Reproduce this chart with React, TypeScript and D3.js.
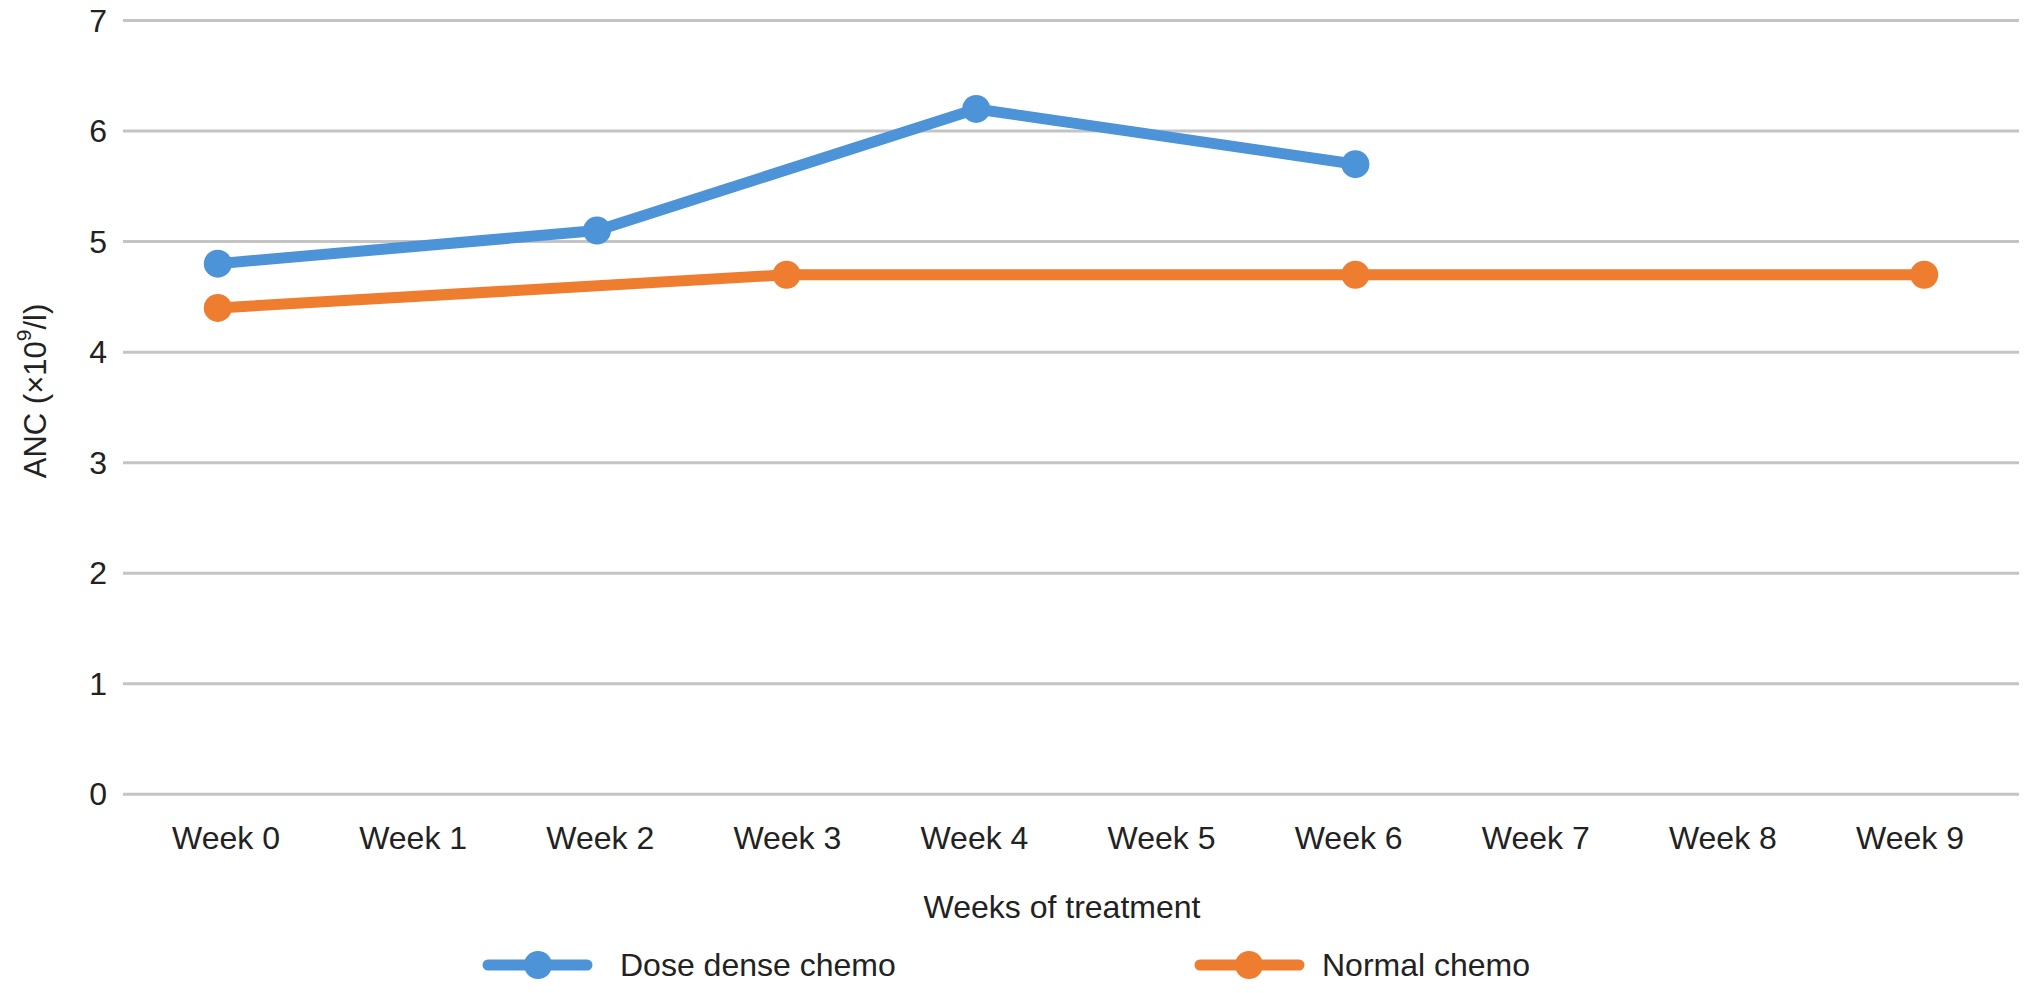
import React from "react";
import * as d3 from "d3";

const weeks = ["Week 0", "Week 1", "Week 2", "Week 3", "Week 4", "Week 5", "Week 6", "Week 7", "Week 8", "Week 9"];
const doseDense: (number | null)[] = [4.8, null, 5.1, null, 6.2, null, 5.7, null, null, null];
const normalChemo: (number | null)[] = [4.4, null, null, 4.7, null, null, 4.7, null, null, 4.7];
const yTicks = [0, 1, 2, 3, 4, 5, 6, 7];
const seriesNames = ["Dose dense chemo", "Normal chemo"];

const W = 2032;
const H = 993;
const FONT = "'Liberation Sans', Arial, Helvetica, sans-serif";
const BLUE = "#4C93D8";
const ORANGE = "#EF7D2F";

export default function App() {
  const x = d3.scaleBand<string>().domain(weeks).range([123, 2019]);
  const xLabel = d3.scalePoint<string>().domain(weeks).range([226, 1910]);
  const y = d3.scaleLinear().domain([0, 7]).range([794.3, 20.5]);
  const cx = (w: string) => (x(w) as number) + x.bandwidth() / 2;

  const line = d3
    .line<{ w: string; v: number }>()
    .x((d) => cx(d.w))
    .y((d) => y(d.v));

  const series = [
    { name: seriesNames[0], values: doseDense, color: BLUE },
    { name: seriesNames[1], values: normalChemo, color: ORANGE },
  ].map((s) => ({
    ...s,
    pts: s.values
      .map((v, i) => ({ w: weeks[i], v: v as number }))
      .filter((d) => d.v !== null && d.v !== undefined),
  }));

  const legend = [
    { x0: 488, x1: 587, cx: 538, tx: 620 },
    { x0: 1200, x1: 1299, cx: 1249, tx: 1322 },
  ];
  const legendY = 965;

  return (
    <svg
      width={W}
      height={H}
      style={{ position: "absolute", left: 0, top: 0, background: "#fff" }}
      fontFamily={FONT}
    >
      <rect x={0} y={0} width={W} height={H} fill="#fff" />
      {yTicks.map((t) => (
        <g key={t}>
          <line x1={123} x2={2019} y1={y(t)} y2={y(t)} stroke="#C4C4C4" strokeWidth={3} />
          <text
            x={107}
            y={y(t)}
            textAnchor="end"
            dominantBaseline="central"
            fontSize={32}
            fill="#222"
          >
            {t}
          </text>
        </g>
      ))}
      {weeks.map((w) => (
        <text key={w} x={xLabel(w)} y={838} textAnchor="middle" dominantBaseline="central" fontSize={32} fill="#222">
          {w}
        </text>
      ))}
      <text x={1062} y={907} textAnchor="middle" dominantBaseline="central" fontSize={32} fill="#222">
        Weeks of treatment
      </text>
      <text
        transform={`translate(35,391) rotate(-90)`}
        textAnchor="middle"
        dominantBaseline="central"
        fontSize={31}
        fill="#222"
      >
        ANC (×10
        <tspan baselineShift="super" fontSize={21}>
          9
        </tspan>
        /l)
      </text>
      {series.map((s) => (
        <g key={s.name}>
          <path d={line(s.pts) || ""} fill="none" stroke={s.color} strokeWidth={11} strokeLinejoin="round" />
          {s.pts.map((p) => (
            <circle key={p.w} cx={cx(p.w)} cy={y(p.v)} r={14} fill={s.color} />
          ))}
        </g>
      ))}
      {series.map((s, i) => (
        <g key={"lg" + s.name}>
          <line
            x1={legend[i].x0}
            x2={legend[i].x1}
            y1={legendY}
            y2={legendY}
            stroke={s.color}
            strokeWidth={11}
            strokeLinecap="round"
          />
          <circle cx={legend[i].cx} cy={legendY} r={14} fill={s.color} />
          <text x={legend[i].tx} y={legendY} dominantBaseline="central" fontSize={32} fill="#222">
            {s.name}
          </text>
        </g>
      ))}
    </svg>
  );
}
